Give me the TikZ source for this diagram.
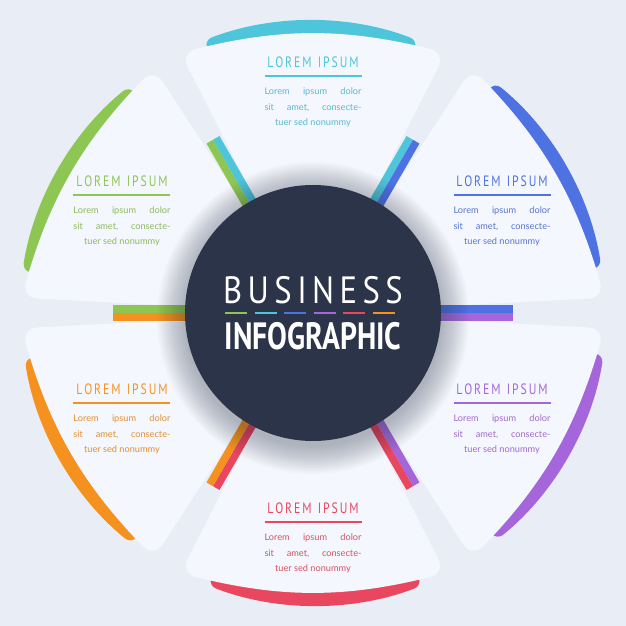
\documentclass[tikz,border=0pt]{standalone}
\usepackage{fontspec}
\setmainfont{Lato}
\newfontfamily\titlefont{PT Sans}
\newfontfamily\bodyfont{Lato}
\definecolor{bg}{HTML}{E9EEF6}
\definecolor{panel}{HTML}{F4F7FD}
\definecolor{dark}{HTML}{2B3448}
\definecolor{cA}{HTML}{4EC5DA}
\definecolor{cB}{HTML}{4F72E3}
\definecolor{cC}{HTML}{A466DA}
\definecolor{cD}{HTML}{E8475F}
\definecolor{cE}{HTML}{F5921F}
\definecolor{cF}{HTML}{8DC653}
\tikzset{
  ttl/.style={font=\titlefont\fontsize{15}{15}\selectfont, inner sep=0pt, xscale=0.78},
  bod/.style={font=\bodyfont\fontsize{9.2}{10}\selectfont, inner sep=0pt},
}
\newcommand\blade[2]{%
  \begin{scope}[rotate=#1]
    \fill[#2, rounded corners=8pt] (0,0) -- (-21:292) arc[start angle=-21,end angle=21,radius=298] -- cycle;
    \fill[panel, rounded corners=16pt] (-27:120) -- (-27:292) to[bend right=14] (27:292) -- (27:120) -- cycle;
  \end{scope}}
\newcommand\stubs[3]{%
  \begin{scope}[rotate=#1]
    \fill[#2] (126,0) rectangle (200,7.5);
    \fill[#3] (126,-7.5) rectangle (200,0);
  \end{scope}}
\newcommand\txt[4]{% x y color name
  \node[ttl, text=#3] (#4t) at (#1,#2) {L\,O\,R\,E\,M\ \ I\,P\,S\,U\,M};
  \draw[#3, line width=1.6pt] (#1-48.5,#2-14) coordinate (#4a) -- (#1+48.5,#2-14) coordinate (#4b);
  \node[bod, text=#3!85!gray] (#4l1) at (#1,#2-30) {\makebox[97pt][s]{Lorem\hfill ipsum\hfill dolor}};
  \node[bod, text=#3!85!gray] (#4l2) at (#1,#2-45.5) {\makebox[97pt][s]{sit\hfill amet,\hfill consecte-}};
  \node[bod, text=#3!85!gray] (#4l3) at (#1,#2-61) {tuer sed nonummy};}
\begin{document}
\begin{tikzpicture}[x=1pt,y=1pt]
\fill[bg] (-313,-313) rectangle (313,313);
\useasboundingbox (-313,-313) rectangle (313,313);
\blade{90}{cA}
\blade{30}{cB}
\blade{-30}{cC}
\blade{-90}{cD}
\blade{-150}{cE}
\blade{150}{cF}
\stubs{60}{cA}{cB}
\stubs{0}{cB}{cC}
\stubs{-60}{cC}{cD}
\stubs{-120}{cD}{cE}
\stubs{180}{cE}{cF}
\stubs{120}{cF}{cA}
% shadow
\foreach \r in {129,130.5,...,156}{
  \fill[dark, opacity=0.018] (0,-5) circle (\r);}
\fill[dark] (0,0) circle (128) node (c) {};
\node[text=white, font=\titlefont\fontsize{38}{38}\selectfont, inner sep=0pt, xscale=0.86] (b1) at (0,23) {B\,U\,S\,I\,N\,E\,S\,S};
\node[text=white, font=\titlefont\bfseries\fontsize{38}{38}\selectfont, inner sep=0pt, xscale=0.78] (b2) at (0,-23) {INFOGRAPHIC};
\foreach \c [count=\i] in {cF,cA,cB,cC,cD,cE}{
  \draw[\c, line width=2.5pt] (-88+\i*29.5-29.5,0) -- ++(22,0);}
\txt{0}{251}{cA}{p1}
\txt{189}{132}{cB}{p2}
\txt{189}{-76}{cC}{p3}
\txt{0}{-195}{cD}{p4}
\txt{-191}{-76}{cE}{p5}
\txt{-191}{132}{cF}{p6}
\end{tikzpicture}
\end{document}
